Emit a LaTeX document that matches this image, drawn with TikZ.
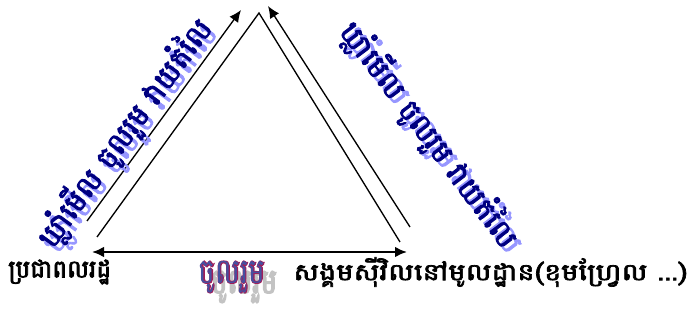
\documentclass[tikz,border=0pt]{standalone}
\usepackage{fontspec}
\usepackage{xcolor}
\usepackage{tikz}
\usetikzlibrary{arrows.meta}
\newfontfamily\khmer[Script=Khmer,FakeBold=3]{Battambang}
\newfontfamily\khmerwide[Script=Khmer,FakeBold=3,FakeStretch=1.24]{Battambang}
\newfontfamily\khmerheavy[Script=Khmer,FakeBold=3]{Battambang}
\newfontfamily\khmertall[Script=Khmer,FakeBold=4,FakeStretch=0.8]{Battambang}
\newfontfamily\khmertallthin[Script=Khmer,FakeStretch=0.8]{Battambang}
\definecolor{navytxt}{RGB}{0,0,128}
\definecolor{shadetxt}{RGB}{150,150,255}
\definecolor{plumtxt}{RGB}{160,30,90}
\definecolor{rimtxt}{RGB}{70,80,160}
\definecolor{greytxt}{RGB}{195,195,195}

\begin{document}
\begin{tikzpicture}[x=0.75pt,y=-0.75pt,font=\khmer,
  arr/.style={-{Latex[length=9pt,width=8pt]},line width=1pt},
  side/.style={line width=1pt},
  slant/.style={font=\khmerheavy\fontsize{22}{26}\selectfont,inner sep=0pt},
  label/.style={font=\khmer\fontsize{18.5}{22}\selectfont,inner sep=0pt},
  joinlbl/.style={font=\khmertall\fontsize{26}{30}\selectfont,inner sep=0pt}]
\useasboundingbox (0,0) rectangle (687,320);
% triangle corners
\coordinate (apex) at (259,13);
\coordinate (bl) at (97,237);
\coordinate (br) at (400,242);
\coordinate (la) at (87,221); \coordinate (lb) at (241,10);
\coordinate (ra) at (410,227); \coordinate (rb) at (268,6);
\coordinate (ha) at (92,252); \coordinate (hb) at (407,252);
\draw[side](bl)--(apex)--(br);
\draw[arr](la)--(lb);
\draw[arr](ra)--(rb);
\draw[arr,{Latex[length=9pt,width=8pt]}-{Latex[length=9pt,width=8pt]},line width=1.6pt](ha)--(hb);
% slanted texts with shadow
\node[slant,text=shadetxt,rotate=54] (lshade) at (130,138) {ឃ្លាំមើល ចូលរួម វាយតំលៃ};
\node[slant,text=navytxt,rotate=54] (ltext) at (125,133) {ឃ្លាំមើល ចូលរួម វាយតំលៃ};
\node[slant,text=shadetxt,rotate=-53] (rshade) at (434,140) {ឃ្លាំមើល ចូលរួម វាយតំលៃ};
\node[slant,text=navytxt,rotate=-53] (rtext) at (429,135) {ឃ្លាំមើល ចូលរួម វាយតំលៃ};
% bottom labels
\node[label,anchor=west] (people) at (8,272) {ប្រជាពលរដ្ឋ};
\node[label,font=\khmerwide\fontsize{17.5}{20}\selectfont,anchor=west] (civil) at (293,272) {សង្គមស៊ីវិលនៅមូលដ្ឋាន(ខុមហ្វ្រែល ...)};
\node[joinlbl,text=greytxt] (jshade) at (244,287) {ចូលរួម};
\node[joinlbl,text=plumtxt] (join) at (232,277) {ចូលរួម};
\node[joinlbl,font=\khmertallthin\fontsize{26}{30}\selectfont,text=rimtxt] (joinrim) at (join) {ចូលរួម};
\end{tikzpicture}
\end{document}
